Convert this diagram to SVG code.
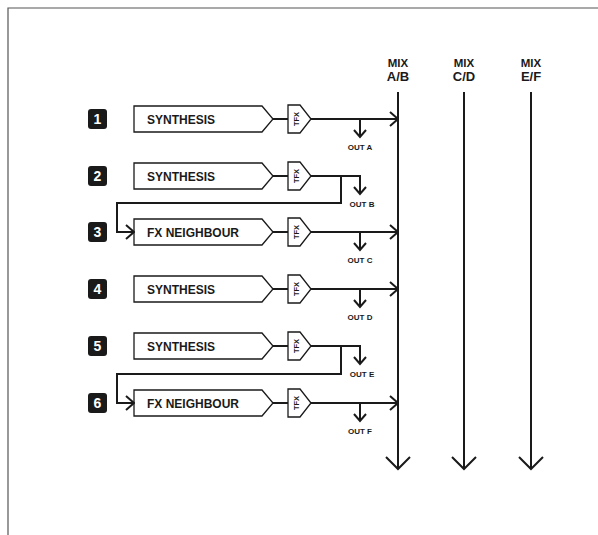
<svg xmlns="http://www.w3.org/2000/svg" width="598" height="535" viewBox="0 0 598 535">
<style>
.frame{stroke:#555;stroke-width:1.2;fill:none}
.box{fill:#fff;stroke:#1a1a1a;stroke-width:1.3}
.ln{fill:none;stroke:#1a1a1a;stroke-width:2}
.badge{fill:#1a1a1a}
.num{font-family:"Liberation Sans",Arial,sans-serif;font-weight:bold;font-size:14px;fill:#fff;text-anchor:middle}
.lbl{font-family:"Liberation Sans",Arial,sans-serif;font-weight:bold;font-size:12px;fill:#1a1a1a}
.tfx{font-family:"Liberation Sans",Arial,sans-serif;font-weight:bold;font-size:7.5px;fill:#1a1a1a;text-anchor:middle}
.out{font-family:"Liberation Sans",Arial,sans-serif;font-weight:bold;font-size:8px;fill:#1a1a1a;text-anchor:middle}
.mix{font-family:"Liberation Sans",Arial,sans-serif;font-weight:bold;fill:#1a1a1a;text-anchor:middle}
</style>
<defs>
<marker id="arr" viewBox="0 0 10 16" refX="9" refY="8" markerWidth="10" markerHeight="16" markerUnits="userSpaceOnUse" orient="auto">
<path d="M1,1 L9,8 L1,15" fill="none" stroke="#1a1a1a" stroke-width="2"/>
</marker>
<marker id="arrS" viewBox="0 0 10 14" refX="8" refY="7" markerWidth="10" markerHeight="14" markerUnits="userSpaceOnUse" orient="auto">
<path d="M1,1 L8,7 L1,13" fill="none" stroke="#1a1a1a" stroke-width="2"/>
</marker>
<marker id="arrB" viewBox="0 0 15 26" refX="13" refY="13" markerWidth="15" markerHeight="26" markerUnits="userSpaceOnUse" orient="auto">
<path d="M1,1 L13,13 L1,25" fill="none" stroke="#1a1a1a" stroke-width="2"/>
</marker>
</defs>
<rect width="598" height="535" fill="#fff"/>
<path class="frame" d="M8,535 V8 H598"/>

<g id="mix-ab"><text class="mix" x="398" y="67" font-size="11.5">MIX</text><text class="mix" x="398" y="81" font-size="13">A/B</text></g>
<g id="mix-cd"><text class="mix" x="464" y="67" font-size="11.5">MIX</text><text class="mix" x="464" y="81" font-size="13">C/D</text></g>
<g id="mix-ef"><text class="mix" x="531" y="67" font-size="11.5">MIX</text><text class="mix" x="531" y="81" font-size="13">E/F</text></g>

<g id="row1">
<rect class="badge" x="88" y="109" width="19" height="20" rx="3"/><text class="num" x="97.5" y="124">1</text>
<polygon class="box" points="134,106 262,106 273,119 262,132 134,132"/><text class="lbl" x="147" y="123.5">SYNTHESIS</text>
<polygon class="box" points="288,105 300,105 311,119 300,133 288,133"/><text class="tfx" transform="translate(296.5,119) rotate(-90)" y="2.7">TFX</text>
<text class="out" x="360" y="150">OUT A</text>
</g>
<g id="row2">
<rect class="badge" x="88" y="166" width="19" height="20" rx="3"/><text class="num" x="97.5" y="181">2</text>
<polygon class="box" points="134,163 262,163 273,176 262,189 134,189"/><text class="lbl" x="147" y="180.5">SYNTHESIS</text>
<polygon class="box" points="288,162 300,162 311,176 300,190 288,190"/><text class="tfx" transform="translate(296.5,176) rotate(-90)" y="2.7">TFX</text>
<text class="out" x="362" y="207">OUT B</text>
</g>
<g id="row3">
<rect class="badge" x="88" y="222" width="19" height="20" rx="3"/><text class="num" x="97.5" y="237">3</text>
<polygon class="box" points="134,219 262,219 273,232 262,245 134,245"/><text class="lbl" x="147" y="236.5">FX NEIGHBOUR</text>
<polygon class="box" points="288,218 300,218 311,232 300,246 288,246"/><text class="tfx" transform="translate(296.5,232) rotate(-90)" y="2.7">TFX</text>
<text class="out" x="360" y="263">OUT C</text>
</g>
<g id="row4">
<rect class="badge" x="88" y="279" width="19" height="20" rx="3"/><text class="num" x="97.5" y="294">4</text>
<polygon class="box" points="134,276 262,276 273,289 262,302 134,302"/><text class="lbl" x="147" y="293.5">SYNTHESIS</text>
<polygon class="box" points="288,275 300,275 311,289 300,303 288,303"/><text class="tfx" transform="translate(296.5,289) rotate(-90)" y="2.7">TFX</text>
<text class="out" x="360" y="320">OUT D</text>
</g>
<g id="row5">
<rect class="badge" x="88" y="336" width="19" height="20" rx="3"/><text class="num" x="97.5" y="351">5</text>
<polygon class="box" points="134,333 262,333 273,346 262,359 134,359"/><text class="lbl" x="147" y="350.5">SYNTHESIS</text>
<polygon class="box" points="288,332 300,332 311,346 300,360 288,360"/><text class="tfx" transform="translate(296.5,346) rotate(-90)" y="2.7">TFX</text>
<text class="out" x="362" y="377">OUT E</text>
</g>
<g id="row6">
<rect class="badge" x="88" y="393" width="19" height="20" rx="3"/><text class="num" x="97.5" y="408">6</text>
<polygon class="box" points="134,390 262,390 273,403 262,416 134,416"/><text class="lbl" x="147" y="407.5">FX NEIGHBOUR</text>
<polygon class="box" points="288,389 300,389 311,403 300,417 288,417"/><text class="tfx" transform="translate(296.5,403) rotate(-90)" y="2.7">TFX</text>
<text class="out" x="360" y="434">OUT F</text>
</g>

<g id="connectors">
<path class="ln" d="M398,92 V469" marker-end="url(#arrB)"/>
<path class="ln" d="M464,92 V469" marker-end="url(#arrB)"/>
<path class="ln" d="M531,92 V469" marker-end="url(#arrB)"/>
<path class="ln" d="M273,119 H288"/>
<path class="ln" d="M273,176 H288"/>
<path class="ln" d="M273,232 H288"/>
<path class="ln" d="M273,289 H288"/>
<path class="ln" d="M273,346 H288"/>
<path class="ln" d="M273,403 H288"/>
<path class="ln" d="M311,119 H398" marker-end="url(#arr)"/>
<path class="ln" d="M360,119 V137" marker-end="url(#arrS)"/>
<path class="ln" d="M311,176 H360 V194" marker-end="url(#arrS)"/>
<path class="ln" d="M341,176 V203 H117 V232 H134" marker-end="url(#arr)"/>
<path class="ln" d="M311,232 H398" marker-end="url(#arr)"/>
<path class="ln" d="M360,232 V250" marker-end="url(#arrS)"/>
<path class="ln" d="M311,289 H398" marker-end="url(#arr)"/>
<path class="ln" d="M360,289 V307" marker-end="url(#arrS)"/>
<path class="ln" d="M311,346 H360 V364" marker-end="url(#arrS)"/>
<path class="ln" d="M341,346 V374 H117 V403 H134" marker-end="url(#arr)"/>
<path class="ln" d="M311,403 H398" marker-end="url(#arr)"/>
<path class="ln" d="M360,403 V421" marker-end="url(#arrS)"/>
</g>
</svg>
